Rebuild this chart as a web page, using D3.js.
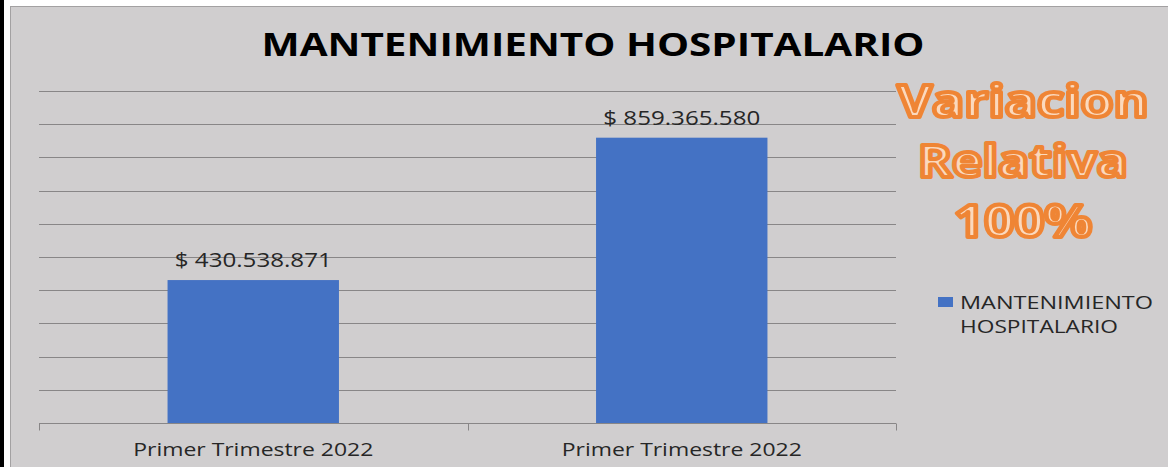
<!DOCTYPE html>
<html>
<head>
<meta charset="utf-8">
<script src="https://cdn.jsdelivr.net/npm/d3@7"></script>
<style>
  body { margin: 0; background: #fff; }
  svg { display: block; }
</style>
</head>
<body>
<svg width="1168" height="467"></svg>
<script>
// chart data
var categories = ["Primer Trimestre 2022", "Primer Trimestre 2022"];
var values = [430538871, 859365580];
var valueLabels = ["$ 430.538.871", "$ 859.365.580"];
var seriesName = ["MANTENIMIENTO", "HOSPITALARIO"];
var noteLines = ["Variacion", "Relativa", "100%"];
var yTicks = d3.range(0, 1000000001, 100000000);

var svg = d3.select("svg");
var font = "'Open Sans', sans-serif";

// page frame: black edge on the left, gray chart area
svg.append("rect").attr("x", 0).attr("y", 0).attr("width", 4).attr("height", 467).attr("fill", "#000");
svg.append("rect")
    .attr("x", 10.5).attr("y", 6.5)
    .attr("width", 1170).attr("height", 470)
    .attr("fill", "#d0cecf")
    .attr("stroke", "#a3a1a2");

var x = d3.scaleBand()
    .domain(d3.range(categories.length))
    .range([39, 896])
    .paddingInner(0.6)
    .paddingOuter(0.3);

var y = d3.scaleLinear()
    .domain([0, 1000000000])
    .range([423, 91]);

// gridlines
svg.append("g")
  .selectAll("line")
  .data(yTicks.slice(1))
  .enter().append("line")
    .attr("x1", 39).attr("x2", 896)
    .attr("y1", function(d) { return Math.round(y(d)) + 0.5; })
    .attr("y2", function(d) { return Math.round(y(d)) + 0.5; })
    .attr("stroke", "#888687")
    .attr("stroke-width", 1);

// bars
svg.append("g")
  .selectAll("rect")
  .data(values)
  .enter().append("rect")
    .attr("x", function(d, i) { return x(i); })
    .attr("y", function(d) { return y(d); })
    .attr("width", x.bandwidth())
    .attr("height", function(d) { return y(0) - y(d); })
    .attr("fill", "#4472c4");

// x axis line and ticks between categories
var axisY = Math.round(y(0)) + 0.5;
svg.append("line")
    .attr("x1", 39).attr("x2", 896)
    .attr("y1", axisY).attr("y2", axisY)
    .attr("stroke", "#888687");
var tickXs = d3.range(categories.length + 1).map(function(i) {
  return 39 + i * (857 / categories.length);
});
svg.append("g")
  .selectAll("line")
  .data(tickXs)
  .enter().append("line")
    .attr("x1", function(d) { return Math.round(d) + 0.5; })
    .attr("x2", function(d) { return Math.round(d) + 0.5; })
    .attr("y1", axisY).attr("y2", axisY + 7)
    .attr("stroke", "#888687");

// category labels
svg.append("g")
  .selectAll("text")
  .data(categories)
  .enter().append("text")
    .attr("x", function(d, i) { return x(i) + x.bandwidth() / 2; })
    .attr("y", 456)
    .attr("text-anchor", "middle")
    .attr("textLength", 240)
    .attr("lengthAdjust", "spacingAndGlyphs")
    .style("font-family", font)
    .style("font-size", "19px")
    .attr("fill", "#262626")
    .text(function(d) { return d; });

// value labels
svg.append("g")
  .selectAll("text")
  .data(values)
  .enter().append("text")
    .attr("x", function(d, i) { return x(i) + x.bandwidth() / 2; })
    .attr("y", function(d) { return y(d) - 13; })
    .attr("text-anchor", "middle")
    .attr("textLength", 157)
    .attr("lengthAdjust", "spacingAndGlyphs")
    .style("font-family", font)
    .style("font-size", "20px")
    .attr("fill", "#262626")
    .text(function(d, i) { return valueLabels[i]; });

// title
svg.append("text")
    .attr("x", 593).attr("y", 56)
    .attr("text-anchor", "middle")
    .attr("textLength", 663)
    .attr("lengthAdjust", "spacingAndGlyphs")
    .style("font-family", font)
    .style("font-weight", "bold")
    .style("font-size", "32px")
    .attr("fill", "#000")
    .text("MANTENIMIENTO HOSPITALARIO");

// legend
svg.append("rect")
    .attr("x", 938).attr("y", 297)
    .attr("width", 15).attr("height", 10)
    .attr("fill", "#4472c4");
svg.append("g")
  .selectAll("text")
  .data(seriesName)
  .enter().append("text")
    .attr("x", 960)
    .attr("y", function(d, i) { return 309 + i * 24; })
    .attr("textLength", function(d, i) { return i === 0 ? 193 : 158; })
    .attr("lengthAdjust", "spacingAndGlyphs")
    .style("font-family", font)
    .style("font-size", "18px")
    .attr("fill", "#262626")
    .text(function(d) { return d; });

// orange note
var noteWidths = [251, 210, 138];
svg.append("g")
  .selectAll("text")
  .data(noteLines)
  .enter().append("text")
    .attr("x", 1023)
    .attr("y", function(d, i) { return 117 + i * 60; })
    .attr("text-anchor", "middle")
    .attr("textLength", function(d, i) { return noteWidths[i]; })
    .attr("lengthAdjust", "spacingAndGlyphs")
    .style("font-family", font)
    .style("font-weight", "bold")
    .style("font-size", "44px")
    .attr("fill", "#fbd9bd")
    .attr("stroke", "#ef8535")
    .attr("stroke-width", 4)
    .attr("stroke-linejoin", "round")
    .text(function(d) { return d; });
</script>
</body>
</html>
